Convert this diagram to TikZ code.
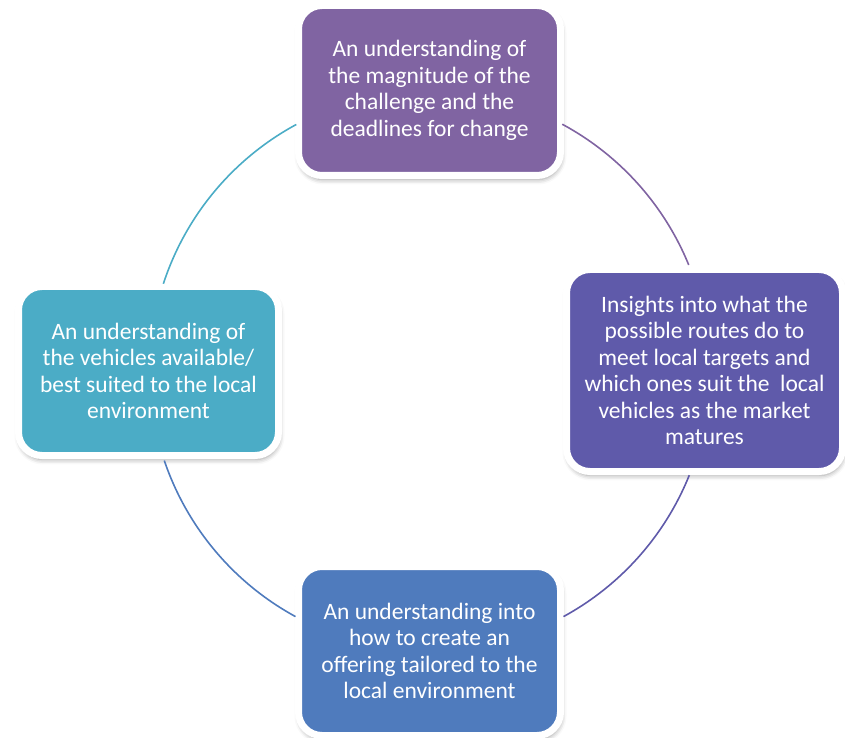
\documentclass[tikz,border=0pt]{standalone}
\usepackage{fontspec}
\setmainfont{Carlito}
\usetikzlibrary{calc,shadows.blur}

\definecolor{cpurple}{HTML}{8064A2}
\definecolor{cindigo}{HTML}{5F5AAA}
\definecolor{cblue}{HTML}{4F7BBD}
\definecolor{cteal}{HTML}{4BACC6}

\begin{document}
\begin{tikzpicture}[x=1pt,y=1pt,
  cyclebox/.style={rounded corners=23.5pt, draw=white, line width=7pt,
    text=white, align=center, inner sep=0pt,
    font=\fontsize{23.5}{26.5}\selectfont,
    blur shadow={shadow xshift=1pt, shadow yshift=-4pt,
      shadow blur radius=5pt, shadow opacity=40}},
  cyclearc/.style={line width=1.6pt}]

\useasboundingbox (0,0) rectangle (845,737);

% boxes: minimum size = visible fill + half the white rim on each side
\node[cyclebox, fill=cpurple, minimum width=262pt, minimum height=170pt]
  (ntop) at (429.5,646.5)
  {An understanding of\\the magnitude of the\\challenge and the\\deadlines for change};
\node[cyclebox, fill=cindigo, minimum width=276pt, minimum height=202pt]
  (nright) at (704.5,366.5)
  {Insights into what the\\possible routes do to\\meet local targets and\\which ones suit the\ \ local\\vehicles as the market\\matures};
\node[cyclebox, fill=cblue, minimum width=262pt, minimum height=169pt]
  (nbottom) at (429.5,86)
  {An understanding into\\how to create an\\offering tailored to the\\local environment};
\node[cyclebox, fill=cteal, minimum width=260pt, minimum height=169pt]
  (nleft) at (148.5,366)
  {An understanding of\\the vehicles available/\\best suited to the local\\environment};

% the cycle: one circle, cut into four arcs between the boxes
\coordinate (cc) at (429.5,366.25);
\coordinate (a1) at ($(cc)+(161.9:280)$);
\coordinate (a2) at ($(cc)+(61.7:280)$);
\coordinate (a3) at ($(cc)+(-21.9:280)$);
\coordinate (a4) at ($(cc)+(-118.6:280)$);

\draw[cyclearc, cteal]   (a1) arc[start angle=161.9, end angle=118.4, radius=280];
\draw[cyclearc, cpurple] (a2) arc[start angle=61.7,  end angle=22.2,  radius=280];
\draw[cyclearc, cindigo] (a3) arc[start angle=-21.9, end angle=-61.4, radius=280];
\draw[cyclearc, cblue]   (a4) arc[start angle=-118.6,end angle=-161.3,radius=280];
\end{tikzpicture}
\end{document}
